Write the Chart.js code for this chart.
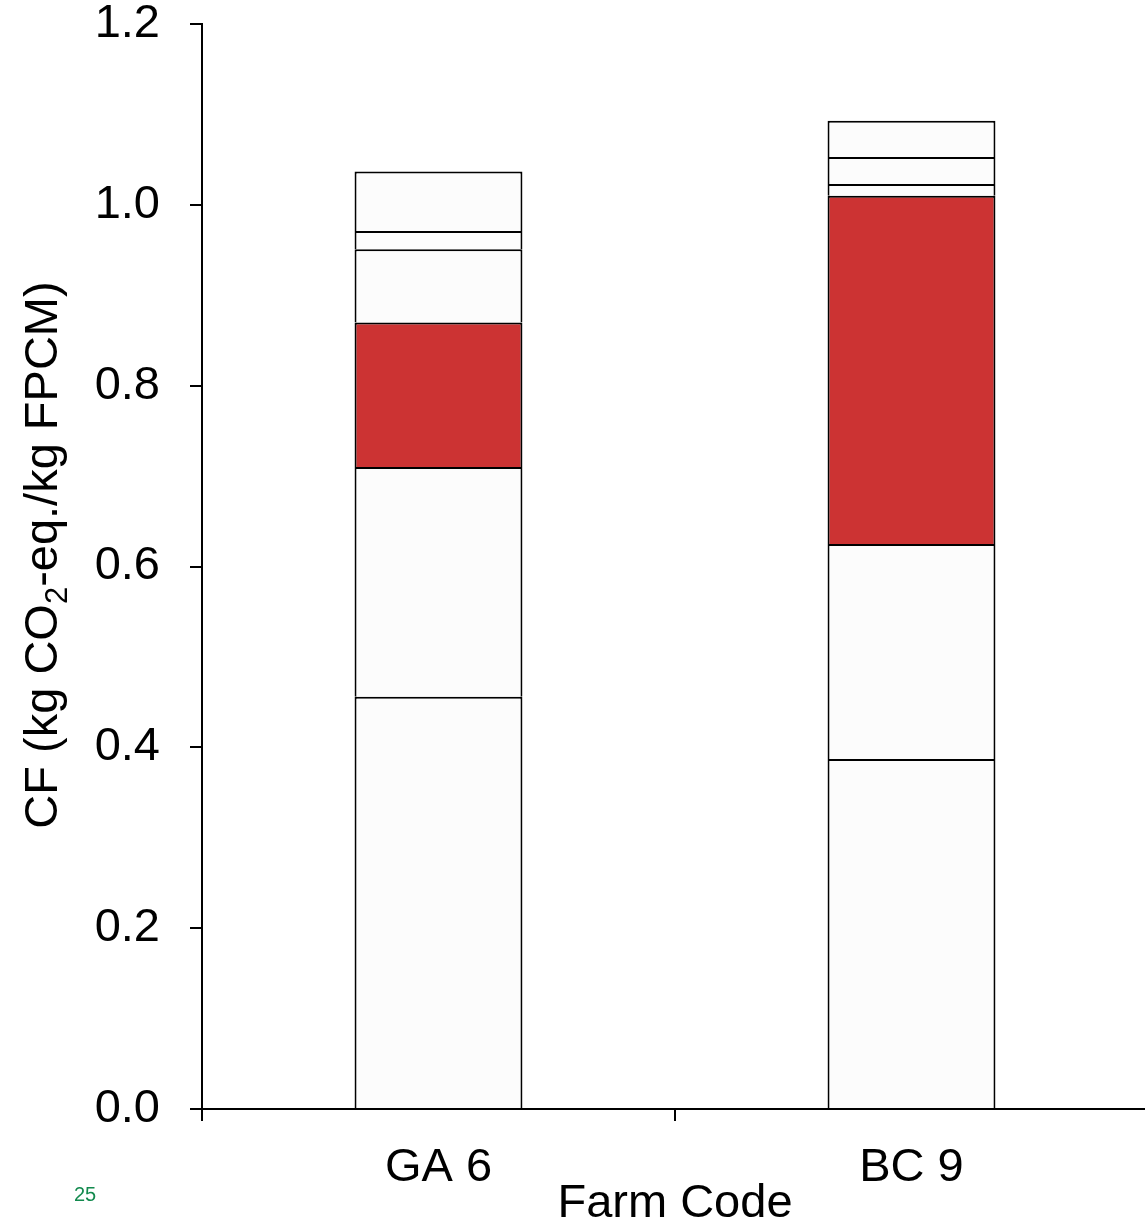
<!DOCTYPE html>
<html>
<head>
<meta charset="utf-8">
<script src="https://cdn.jsdelivr.net/npm/chart.js@4.4.0/dist/chart.umd.min.js"></script>
<style>
    html, body { margin: 0; padding: 0; background: #fff; overflow: hidden; }
    #wrap { position: relative; width: 1145px; height: 1225px; overflow: hidden; }
    #page { position: absolute; left: 74px; top: 1183px; font: 20px "Liberation Sans", Arial, sans-serif; color: #138a4e; }
</style>
</head>
<body>
<div id="wrap">
    <canvas id="chart" width="1148" height="1225"></canvas>
    <div id="page">25</div>
</div>
<script>
// Farms and stacked contributions (kg CO2-eq./kg FPCM), bottom to top
const farms = ['GA 6', 'BC 9'];
const layer1 = [0.456, 0.387];
const layer2 = [0.254, 0.238];
const layer3 = [0.160, 0.385];   // red block
const layer4 = [0.081, 0.013];
const layer5 = [0.020, 0.030];
const layer6 = [0.066, 0.040];
const yTicks = [0, 0.2, 0.4, 0.6, 0.8, 1.0, 1.2];

const WHITE = '#fcfcfc';
const RED = '#cc3333';
const FONT = '"Liberation Sans", Arial, sans-serif';

function layer(data, color) {
    return {
        data: data,
        backgroundColor: color,
        borderColor: '#000',
        borderWidth: 2,
        borderSkipped: 'bottom',
        categoryPercentage: 1.0,
        barPercentage: 0.355
    };
}

// y title with a real subscript 2
const yTitle = {
    id: 'yTitle',
    afterDraw(chart) {
        const ctx = chart.ctx;
        const big = '47px ' + FONT;
        const small = '31px ' + FONT;
        const parts = [
            { t: 'CF (kg CO', f: big, dy: 0 },
            { t: '2', f: small, dy: 10 },
            { t: '-eq./kg FPCM)', f: big, dy: 0 }
        ];
        let total = 0;
        parts.forEach(p => { ctx.font = p.f; p.w = ctx.measureText(p.t).width; total += p.w; });
        ctx.save();
        ctx.translate(57, 555);
        ctx.rotate(-Math.PI / 2);
        ctx.fillStyle = '#000';
        ctx.textBaseline = 'alphabetic';
        let x = -total / 2;
        parts.forEach(p => {
            ctx.font = p.f;
            ctx.fillText(p.t, x, p.dy);
            x += p.w;
        });
        ctx.restore();
    }
};

new Chart(document.getElementById('chart'), {
    type: 'bar',
    data: {
        labels: farms,
        datasets: [
            layer(layer1, WHITE),
            layer(layer2, WHITE),
            layer(layer3, RED),
            layer(layer4, WHITE),
            layer(layer5, WHITE),
            layer(layer6, WHITE)
        ]
    },
    options: {
        responsive: false,
        animation: false,
        layout: { padding: { top: 24, right: 0, left: 0, bottom: 0 } },
        plugins: {
            legend: { display: false },
            tooltip: { enabled: false }
        },
        scales: {
            x: {
                stacked: true,
                afterFit(scale) { scale.height = 116; },
                grid: { drawOnChartArea: false, offset: true, tickLength: 12, color: '#000', lineWidth: 2 },
                border: { color: '#000', width: 2 },
                ticks: { color: '#000', font: { family: FONT, size: 47 }, padding: 19, maxRotation: 0 },
                title: { display: true, text: 'Farm Code', color: '#000', font: { family: FONT, size: 47 }, padding: { top: 0, bottom: -7 } }
            },
            y: {
                stacked: true,
                min: 0,
                max: 1.2,
                afterFit(scale) {
                    scale.width = 202;
                    scale.paddingTop = 0;
                    scale.paddingBottom = 0;
                },
                afterBuildTicks(scale) { scale.ticks = yTicks.map(v => ({ value: v })); },
                grid: { drawOnChartArea: false, tickLength: 12, color: '#000', lineWidth: 2 },
                border: { color: '#000', width: 2 },
                ticks: {
                    color: '#000',
                    font: { family: FONT, size: 47 },
                    padding: 30,
                    callback: v => v.toFixed(1)
                }
            }
        }
    },
    plugins: [yTitle]
});
</script>
</body>
</html>
